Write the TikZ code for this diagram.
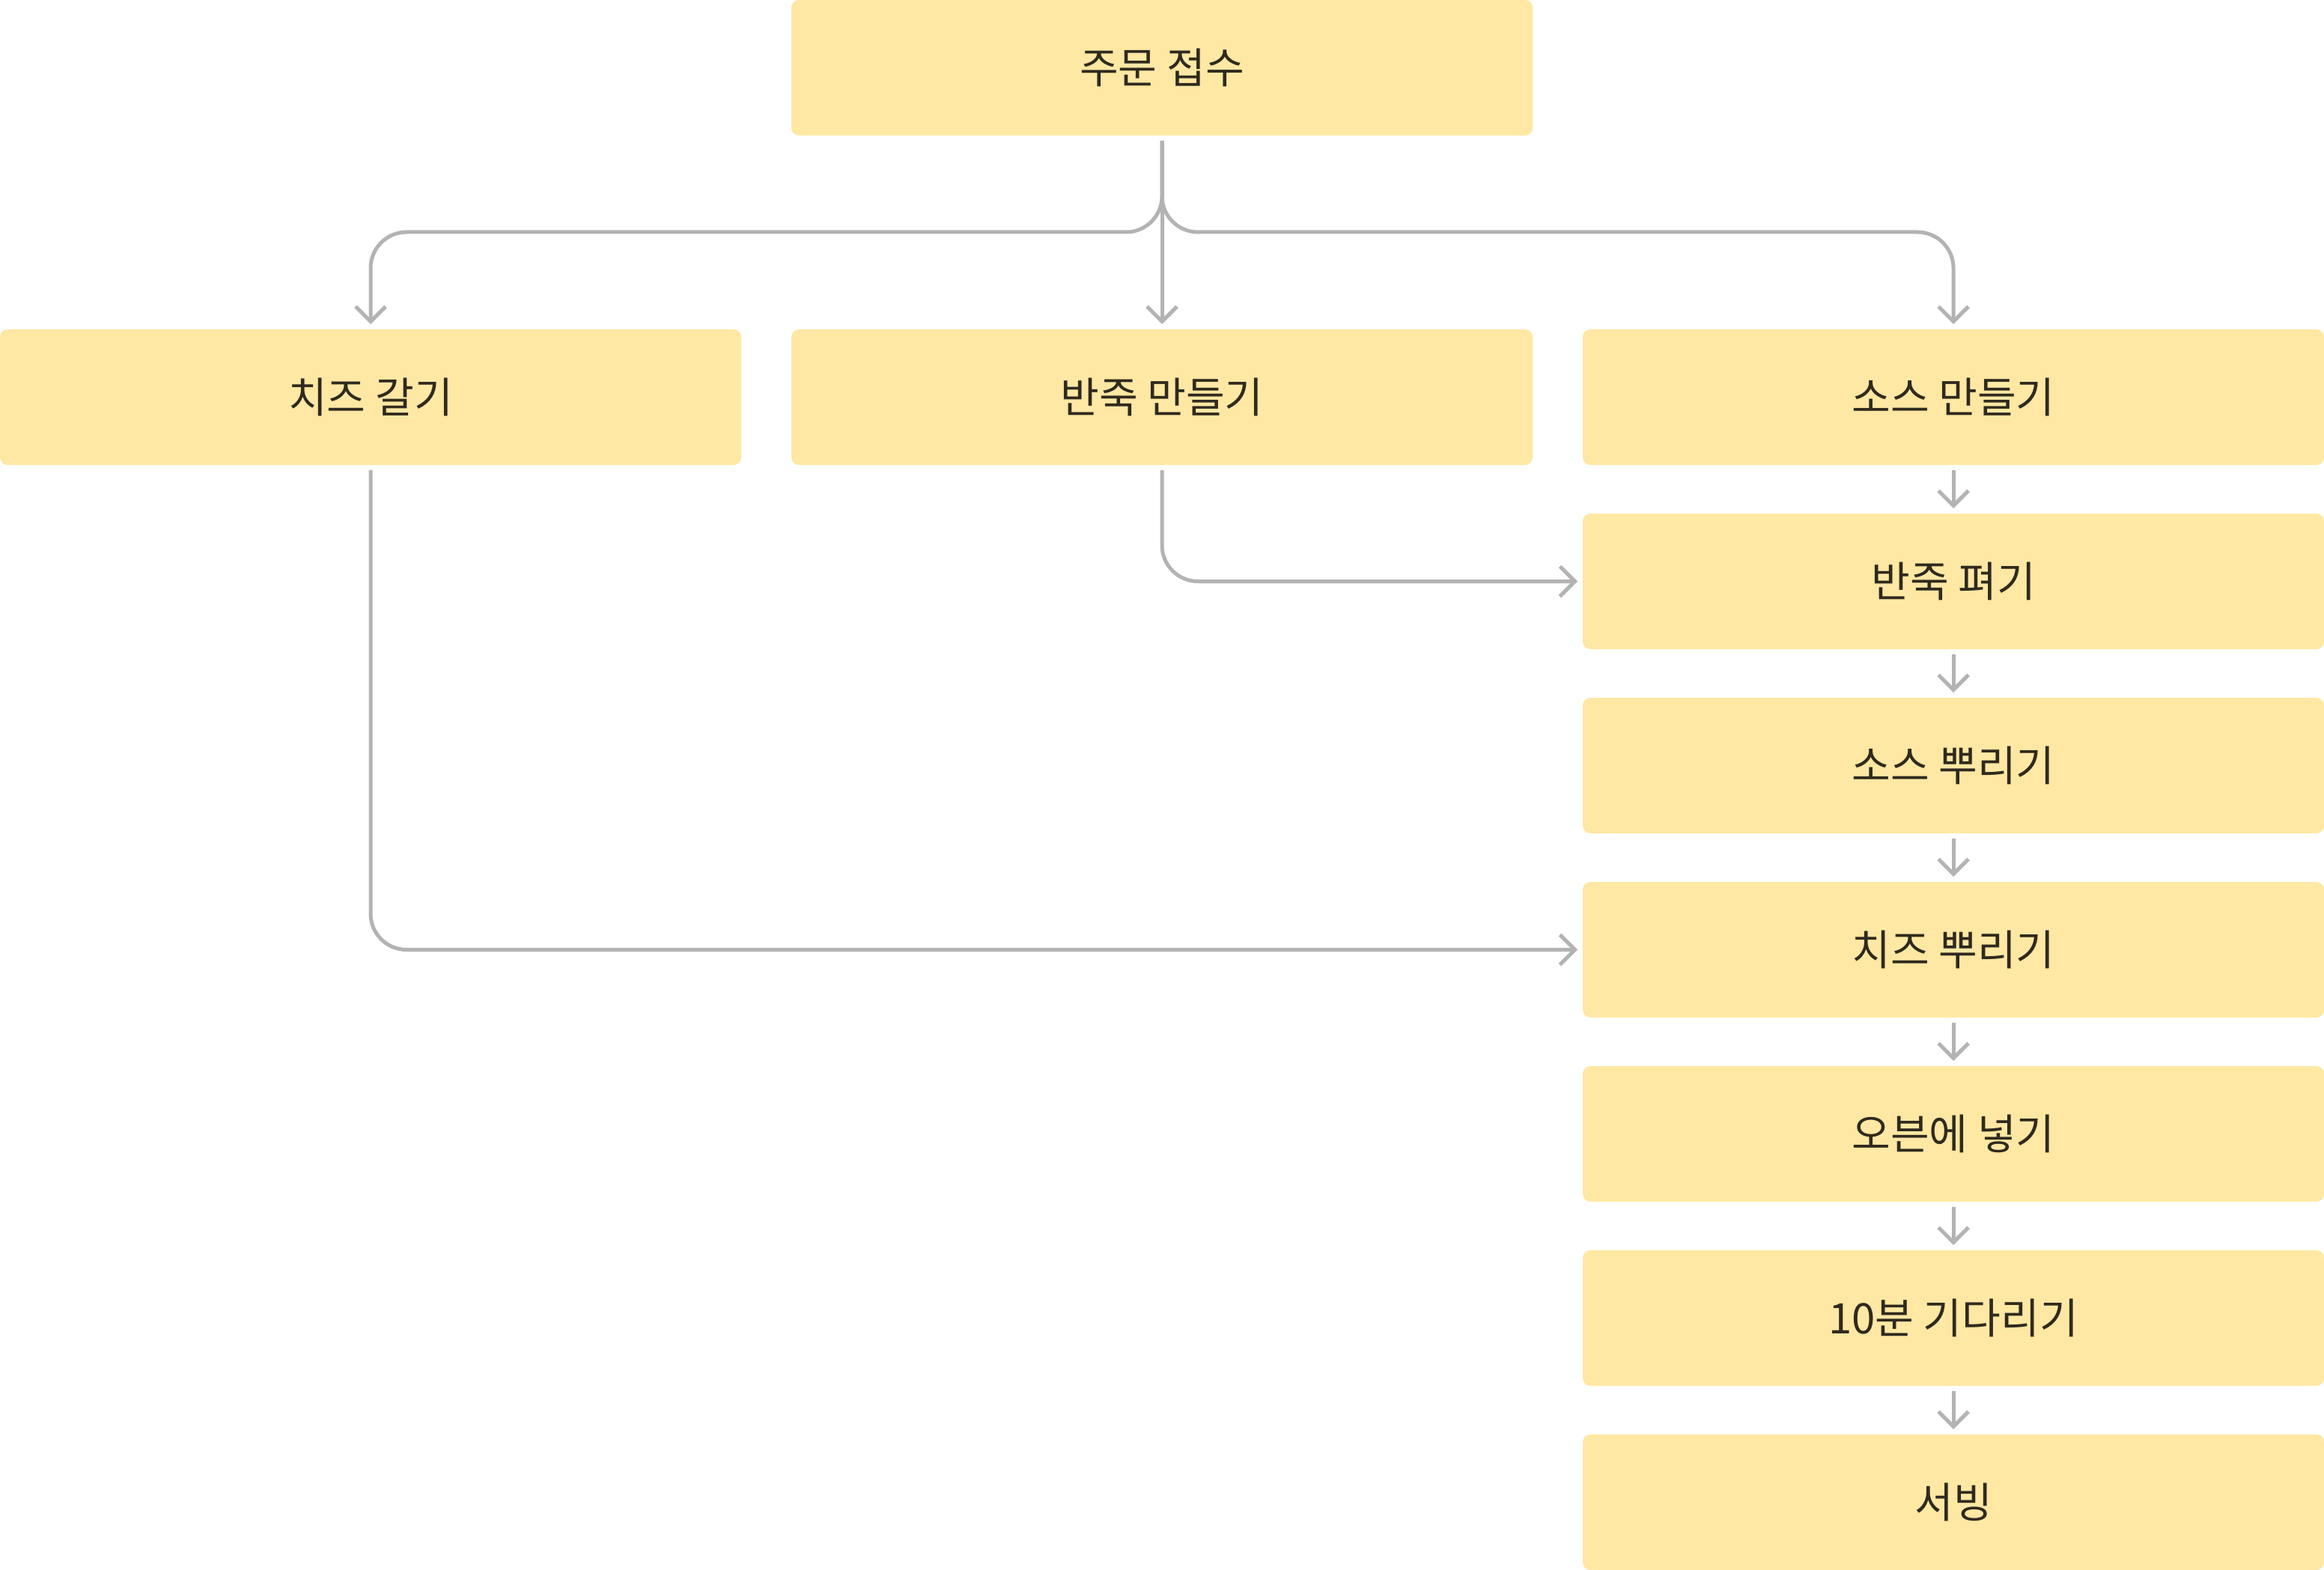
\documentclass[tikz,border=0pt]{standalone}
\usepackage{fontspec}
\newfontfamily\krfont{Noto Sans CJK KR}
\usepackage{tikz}
\usetikzlibrary{arrows.meta}
\usetikzlibrary{positioning}

\definecolor{boxfill}{HTML}{FFE8A3}
\definecolor{boxtext}{HTML}{2F2A1E}
\definecolor{flowgray}{HTML}{B3B3B3}

\begin{document}
\begin{tikzpicture}[
    box/.style = {fill=boxfill, text=boxtext, rounded corners=0.1cm,
        minimum width=9.9cm, minimum height=1.81cm, inner sep=0pt, outer sep=0pt,
        font=\krfont\fontsize{16}{19}\selectfont},
    flow/.style = {draw=flowgray, line width=0.05cm, rounded corners=0.48cm,
        shorten <=0.07cm, shorten >=0.07cm,
        -{Straight Barb[length=0.2cm, width=0.4cm, line width=0.05cm]}},
    node distance = 0.65cm]
    \useasboundingbox (0,0) rectangle (31.04,-20.96);

    % boxes
    \node[box] (order) at (15.52,-0.905) {주문 접수};
    \node[box, below=2.59cm of order] (dough) {반죽 만들기};
    \node[box, left=0.67cm of dough] (grate) {치즈 갈기};
    \node[box, right=0.67cm of dough] (sauce) {소스 만들기};
    \node[box, below=of sauce] (spread) {반죽 펴기};
    \node[box, below=of spread] (pour) {소스 뿌리기};
    \node[box, below=of pour] (sprinkle) {치즈 뿌리기};
    \node[box, below=of sprinkle] (oven) {오븐에 넣기};
    \node[box, below=of oven] (wait) {10분 기다리기};
    \node[box, below=of wait] (serve) {서빙};

    % arrows
    \draw[flow] (order) -- (dough);
    \draw[flow] (order.south) |- ([yshift=1.3cm]grate.north) -- (grate.north);
    \draw[flow] (order.south) |- ([yshift=1.3cm]sauce.north) -- (sauce.north);
    \draw[flow] (dough.south) |- (spread.west);
    \draw[flow] (grate.south) |- (sprinkle.west);
    \foreach \a/\b in {sauce/spread, spread/pour, pour/sprinkle,
                       sprinkle/oven, oven/wait, wait/serve}
        \draw[flow] (\a) -- (\b);
\end{tikzpicture}
\end{document}
